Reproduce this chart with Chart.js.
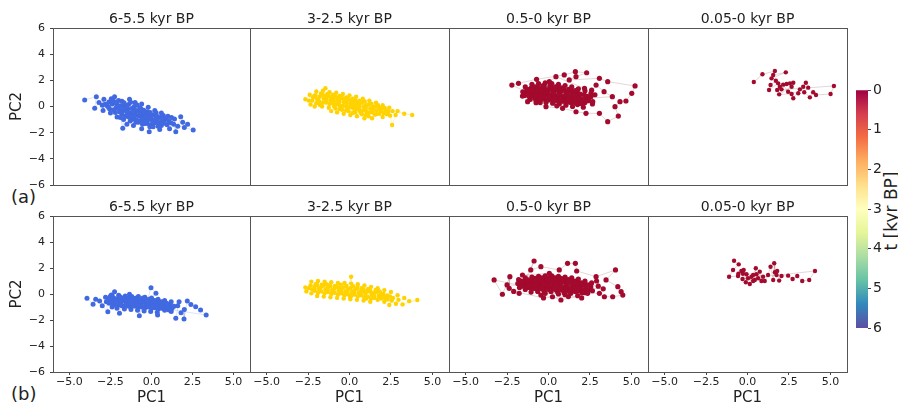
<!DOCTYPE html>
<html>
<head>
<meta charset="utf-8">
<script src="https://cdn.jsdelivr.net/npm/chart.js@4.4.0/dist/chart.umd.min.js"></script>
<style>
  body { margin: 0; background: #fff; }
  #wrap { position: relative; width: 898px; height: 410px; font-family: 'DejaVu Sans', sans-serif; color: #222; }
  #wrap canvas { position: absolute; left: 0; top: 0; }
  .tag { position: absolute; font-size: 18px; line-height: 22px; }
  #cbl { position: absolute; left: 831px; top: 200px; width: 120px; height: 22px; line-height: 22px;
         text-align: center; font-size: 17px; white-space: nowrap; transform: rotate(-90deg); }
</style>
</head>
<body>
<div id="wrap">
  <div class="tag" style="left:11px;top:186px">(a)</div>
  <div class="tag" style="left:11px;top:383px">(b)</div>
  <div id="cbl">t [kyr BP]</div>
</div>
<script>
// panel titles and ticks
const panelTitles = ['6-5.5 kyr BP', '3-2.5 kyr BP', '0.5-0 kyr BP', '0.05-0 kyr BP'];
const pc1Ticks = [-5, -2.5, 0, 2.5, 5];
const pc2Ticks = [-6, -4, -2, 0, 2, 4, 6];
const tTicks = [0, 1, 2, 3, 4, 5, 6];

// (a) row, points as [PC1, PC2]
const rowA_6k = [
  [-4.07,0.50],[-3.36,0.75],[-3.46,-0.14],[-3.2,0.3],[-3.0,0.1],[-2.9,0.55],[-2.95,-0.3],
  [-2.6,0.35],[-2.55,-0.2],[-2.7,0.05],[-2.5,-0.5],[-2.45,0.6],[-2.4,0.2],
  [-2.25,0.75],[-2.2,0.25],[-2.15,-0.1],[-2.2,-0.45],[-2.1,-0.8],[-2.3,-0.25],[-2.0,-0.2],[-2.0,0.45],
  [-1.8,0.4],[-1.85,0.05],[-1.75,-0.3],[-1.8,-0.6],[-1.7,-1.0],[-1.75,-1.67],[-1.9,-0.85],[-1.6,-0.3],[-1.6,0.1],[-1.6,-0.75],
  [-1.34,0.55],[-1.4,0.15],[-1.45,-0.2],[-1.35,-0.5],[-1.4,-0.8],[-1.3,-1.1],[-1.5,-1.35],[-1.2,-0.6],[-1.2,-0.15],[-1.2,-1.0],
  [-1.0,0.3],[-1.05,0.0],[-0.95,-0.3],[-1.0,-0.6],[-1.05,-0.9],[-0.95,-1.2],[-1.1,-1.45],[-0.8,-0.7],[-0.8,-0.35],[-0.8,-1.2],
  [-0.6,0.2],[-0.65,-0.15],[-0.55,-0.45],[-0.6,-0.75],[-0.65,-1.05],[-0.55,-1.35],[-0.6,-1.7],[-0.4,-0.9],[-0.4,-0.55],[-0.4,-1.3],
  [-0.2,-0.05],[-0.25,-0.4],[-0.15,-0.7],[-0.2,-1.0],[-0.25,-1.3],[-0.14,-1.93],[-0.1,-1.55],[0.0,-1.0],[0.0,-0.65],[0.0,-1.4],
  [0.2,-0.3],[0.15,-0.65],[0.25,-0.95],[0.2,-1.25],[0.1,-1.55],[0.4,-1.2],[0.4,-0.85],[0.4,-1.5],
  [0.6,-0.5],[0.55,-0.85],[0.65,-1.15],[0.6,-1.45],[0.5,-1.75],[0.8,-1.0],
  [1.0,-0.75],[1.05,-1.1],[0.95,-1.4],[1.1,-1.7],
  [1.4,-0.95],[1.48,-1.93],[1.35,-1.35],[1.6,-1.5],
  [1.78,-0.78],[1.9,-1.2],[2.0,-1.6],[2.2,-1.35],[2.54,-1.80],
  [-2.82,0.18],[-2.62,-0.05],[-2.33,0.42],[-2.07,0.12],[-1.93,-0.42],[-1.67,0.28],[-1.52,-0.05],[-1.48,-0.58],
  [-1.27,0.33],[-1.13,-0.38],[-1.08,-0.75],[-0.88,0.12],[-0.72,-0.12],[-0.68,-0.55],[-0.47,-0.28],[-0.52,-1.18],
  [-0.33,-0.78],[-0.28,-1.12],[-0.08,-0.45],[-0.05,-0.82],[0.08,-1.2],[0.28,-0.48],[0.32,-0.72],[0.33,-1.05],
  [0.48,-1.32],[0.72,-0.68],[0.78,-1.28],[0.88,-0.92],[1.18,-1.25],[1.22,-0.85],[-1.68,-0.15],[-2.12,0.35],
  [-0.9,-1.05],[-1.28,-0.82]
];
const rowA_3k = [
  [-2.66,0.55],[-2.4,0.9],[-2.45,0.45],[-2.35,0.15],
  [-2.0,1.15],[-2.05,0.85],[-1.95,0.55],[-2.0,0.25],[-2.1,0.0],
  [-1.6,1.2],[-1.65,0.9],[-1.55,0.6],[-1.6,0.3],[-1.65,0.0],[-1.45,1.39],
  [-1.2,1.1],[-1.25,0.8],[-1.15,0.5],[-1.2,0.2],[-1.25,-0.1],[-1.1,-0.35],
  [-0.8,1.05],[-0.85,0.75],[-0.75,0.45],[-0.8,0.15],[-0.85,-0.15],[-0.75,-0.45],
  [-0.4,0.95],[-0.45,0.65],[-0.35,0.35],[-0.4,0.05],[-0.45,-0.25],[-0.35,-0.55],
  [0.0,0.85],[-0.05,0.55],[0.05,0.25],[0.0,-0.05],[-0.05,-0.35],[0.05,-0.65],
  [0.4,0.75],[0.35,0.45],[0.45,0.15],[0.4,-0.15],[0.35,-0.45],[0.45,-0.75],
  [0.8,0.6],[0.75,0.3],[0.85,0.0],[0.8,-0.3],[0.75,-0.6],[0.9,-0.9],
  [1.2,0.45],[1.15,0.15],[1.25,-0.15],[1.2,-0.45],[1.15,-0.75],
  [1.6,0.3],[1.55,0.0],[1.65,-0.3],[1.6,-0.6],[1.36,-0.9],
  [2.0,0.1],[1.95,-0.2],[2.05,-0.5],[2.0,-0.8],
  [2.4,-0.1],[2.35,-0.4],[2.45,-0.7],[2.57,-1.41],
  [2.78,-0.65],[2.9,-0.35],[3.3,-0.55],[3.78,-0.65],
  [-2.2,0.7],[-1.8,0.75],[-1.4,0.65],[-1.0,0.6],[-0.6,0.5],[-0.2,0.4],[0.2,0.3],[0.6,0.2],[1.0,0.1],[1.4,0.0],[1.8,-0.1],[2.2,-0.3],
  [-1.8,0.35],[-1.4,0.3],[-1.0,0.25],[-0.6,0.1],[-0.2,0.0],[0.2,-0.1],[0.6,-0.3],[1.0,-0.35],[1.4,-0.45],[1.8,-0.55],
  [-1.0,0.9],[-0.6,0.8],[-0.2,0.7],[0.2,0.6],[0.6,0.45],[1.0,-0.65],[-0.6,-0.2],[-0.2,-0.3],[0.2,-0.5],
  [-2.25,0.45],[-2.12,0.82],[-1.88,0.48],[-1.72,1.0],[-1.78,0.12],[-1.52,0.82],[-1.33,0.95],[-1.38,0.45],
  [-1.12,0.7],[-0.95,0.4],[-0.92,0.0],[-0.68,0.65],[-0.62,0.3],[-0.52,-0.05],[-0.28,0.55],[-0.18,0.2],
  [-0.12,-0.15],[0.12,0.48],[0.08,0.05],[0.28,0.12],[0.32,-0.3],[0.52,0.32],[0.58,-0.05],[0.68,-0.48],
  [0.92,0.38],[0.98,-0.12],[1.08,-0.5],[1.32,0.22],[1.42,-0.22],[1.52,-0.62],[1.72,0.1],[1.88,-0.35],
  [2.12,-0.12],[2.25,-0.6],[2.6,-0.35]
];
const rowA_05k = [
  [-1.4,1.5],[-1.35,1.15],[-1.45,0.85],
  [-1.0,1.7],[-1.05,1.4],[-0.95,1.1],[-1.0,0.8],[-1.1,0.55],
  [-0.6,1.75],[-0.65,1.45],[-0.55,1.15],[-0.6,0.85],[-0.65,0.55],[-0.5,0.3],
  [-0.2,1.8],[-0.25,1.5],[-0.15,1.2],[-0.2,0.9],[-0.25,0.6],[-0.15,0.3],
  [0.2,1.75],[0.15,1.45],[0.25,1.15],[0.2,0.85],[0.15,0.55],[0.25,0.25],
  [0.6,1.7],[0.55,1.4],[0.65,1.1],[0.6,0.8],[0.55,0.5],[0.65,0.2],
  [1.0,1.6],[0.95,1.3],[1.05,1.0],[1.0,0.7],[0.95,0.4],[1.05,0.1],
  [1.4,1.5],[1.35,1.2],[1.45,0.9],[1.4,0.6],[1.35,0.3],[1.45,0.0],
  [1.8,1.35],[1.75,1.05],[1.85,0.75],[1.8,0.45],[1.75,0.15],
  [2.2,1.2],[2.15,0.9],[2.25,0.6],[2.2,0.3],[2.1,-0.05],
  [2.6,1.25],[2.55,0.75],[2.65,0.2],
  [-1.2,1.05],[-0.8,1.0],[-0.4,0.95],[0.0,0.9],[0.4,0.85],[0.8,0.8],[1.2,0.75],[1.6,0.7],[2.0,0.55],
  [-0.8,1.5],[-0.4,1.35],[0.0,1.3],[0.4,1.25],[0.8,1.2],[1.2,1.1],[1.6,1.0],
  [-0.8,0.6],[-0.4,0.55],[0.0,0.5],[0.4,0.45],[0.8,0.4],[1.2,0.35],[1.6,0.3],
  [-1.22,1.3],[-1.18,0.78],[-0.92,1.28],[-0.82,0.82],[-0.72,1.22],[-0.42,1.12],[-0.35,0.78],[-0.32,1.6],
  [-0.05,1.05],[0.02,0.72],[0.08,1.55],[0.32,1.02],[0.38,0.65],[0.42,1.5],[0.68,0.95],[0.72,0.58],
  [0.78,1.42],[1.12,0.92],[1.18,0.55],[1.22,1.32],[1.52,0.85],[1.58,0.48],[1.62,1.22],[1.92,0.95],
  [1.98,0.22],[2.32,0.78],[2.42,0.45],[-1.55,1.12],[2.8,0.9],[0.5,0.05],
  [-2.21,1.64],[-1.81,1.77],[-0.72,2.08],[0.95,2.41],[1.62,2.66],[2.30,2.58],[1.66,2.28],[1.25,2.03],
  [3.07,2.15],[3.57,1.90],[5.22,1.57],[5.02,1.01],[4.67,0.42],[4.31,0.37],[4.01,-0.01],[4.21,-0.73],
  [3.57,-1.16],[3.07,-0.52],[2.26,-0.52],[1.66,-0.40],[0.85,-0.14],[-0.15,-0.01],[-0.75,0.29],[-1.57,0.80],
  [-1.26,0.37],[3.85,0.75],[3.35,1.13],[2.87,1.64],[2.56,1.01],[2.67,0.37],[2.06,0.50],[2.17,1.39],
  [0.45,2.28],[0.05,1.90],[-0.35,1.52],[-0.96,1.31]
];
const rowA_005k = [
  [0.38,1.87],[0.90,2.46],[1.65,2.71],[1.55,2.41],[2.31,2.61],[1.45,2.15],[1.71,1.97],[1.39,1.64],
  [1.30,1.26],[1.85,1.77],[1.95,1.51],[2.05,1.31],[2.36,1.72],[2.56,1.77],[2.76,1.82],[2.66,1.51],
  [1.91,0.93],[2.66,0.96],[2.76,0.63],[3.16,1.31],[3.36,1.51],[3.52,1.82],[3.66,1.44],[3.42,1.09],
  [3.76,0.70],[3.96,1.09],[4.13,0.88],[5.01,0.96],[5.21,1.57],[1.79,1.26],[2.15,1.67],[2.45,1.13],
  [3.06,1.01]
];

// (b) row
const rowB_6k = [
  [-3.93,-0.33],[-3.56,-0.79],[-3.4,-0.4],[-3.16,-0.54],[-3.0,-0.9],[-2.66,-1.36],
  [-2.8,-0.25],[-2.75,-0.6],[-2.45,-0.08],[-2.25,0.18],
  [-2.4,-0.1],[-2.45,-0.4],[-2.35,-0.7],[-2.4,-1.0],
  [-2.0,-0.1],[-2.05,-0.35],[-1.95,-0.6],[-2.0,-0.85],[-2.1,-1.1],[-1.95,-1.49],
  [-1.6,-0.15],[-1.65,-0.4],[-1.55,-0.65],[-1.6,-0.9],[-1.65,-1.15],
  [-1.34,-0.02],[-1.2,-0.2],[-1.25,-0.45],[-1.15,-0.7],[-1.2,-0.95],[-1.25,-1.2],
  [-0.8,-0.2],[-0.85,-0.5],[-0.75,-0.75],[-0.8,-1.0],[-0.85,-1.25],[-0.74,-1.67],
  [-0.4,-0.25],[-0.45,-0.55],[-0.35,-0.8],[-0.4,-1.05],[-0.45,-1.3],
  [-0.03,0.48],[0.27,0.05],[0.0,-0.3],[-0.05,-0.6],[0.05,-0.85],[0.0,-1.1],[-0.05,-1.35],
  [0.4,-0.4],[0.35,-0.65],[0.45,-0.9],[0.4,-1.15],[0.35,-1.4],[0.37,-1.62],
  [0.8,-0.5],[0.75,-0.75],[0.85,-1.0],[0.8,-1.25],
  [1.2,-0.6],[1.15,-0.85],[1.25,-1.1],[1.2,-1.35],[1.07,-1.23],
  [1.6,-0.9],[1.68,-0.59],[1.48,-1.87],[1.8,-1.45],[2.0,-1.2],[1.98,-1.92],[2.18,-0.54],[2.4,-0.8],
  [2.69,-0.98],[2.99,-1.23],[3.33,-1.62],
  [-2.6,-0.45],[-2.2,-0.5],[-1.8,-0.55],[-1.4,-0.55],[-1.0,-0.6],[-0.6,-0.65],[-0.2,-0.7],[0.2,-0.75],[0.6,-0.8],[1.0,-0.85],
  [-2.2,-0.85],[-1.8,-0.9],[-1.4,-0.95],[-1.0,-0.95],[-0.6,-1.0],[-0.2,-1.0],[0.2,-1.05],[0.6,-1.1],[1.0,-1.15],
  [-1.8,-0.3],[-1.4,-0.3],[-1.0,-0.35],[-0.6,-0.4],[-0.2,-0.45],[0.2,-0.5],[0.6,-0.6],
  [-2.58,-0.72],[-2.52,-0.2],[-2.28,-0.32],[-2.12,-0.68],[-1.92,-0.22],[-1.88,-0.75],[-1.72,-0.48],[-1.52,-0.82],
  [-1.48,-0.4],[-1.32,-0.68],[-1.12,-0.5],[-1.08,-0.85],[-0.92,-0.3],[-0.88,-0.78],[-0.68,-0.55],[-0.62,-0.88],
  [-0.52,-0.3],[-0.28,-0.62],[-0.22,-0.88],[-0.12,-0.4],[0.08,-0.72],[0.12,-0.95],[0.28,-0.6],[0.32,-0.92],
  [0.52,-0.7],[0.58,-0.98],[0.72,-0.62],[0.92,-0.72],[0.98,-1.02],[1.38,-0.95]
];
const rowB_3k = [
  [-2.66,0.5],[-2.6,0.2],
  [-2.3,0.95],[-2.35,0.65],[-2.25,0.35],[-2.3,0.05],
  [-1.9,1.0],[-1.95,0.7],[-1.85,0.4],[-1.9,0.1],[-1.95,-0.15],
  [-1.5,0.95],[-1.55,0.65],[-1.45,0.35],[-1.5,0.05],[-1.55,-0.2],
  [-1.1,0.9],[-1.15,0.6],[-1.05,0.3],[-1.1,0.0],[-1.15,-0.25],
  [-0.7,0.85],[-0.75,0.55],[-0.65,0.25],[-0.7,-0.05],[-0.75,-0.3],
  [-0.3,0.85],[-0.35,0.5],[-0.25,0.2],[-0.3,-0.1],[-0.35,-0.35],
  [0.1,1.33],[0.1,0.8],[0.05,0.45],[0.15,0.15],[0.1,-0.15],[0.05,-0.4],
  [0.5,0.75],[0.45,0.4],[0.55,0.1],[0.5,-0.2],[0.45,-0.45],
  [0.9,0.65],[0.85,0.35],[0.95,0.05],[0.9,-0.25],[0.85,-0.5],
  [1.3,0.55],[1.25,0.25],[1.35,-0.05],[1.3,-0.35],[1.25,-0.6],
  [1.7,0.45],[1.65,0.15],[1.75,-0.15],[1.7,-0.45],
  [2.1,0.3],[2.05,0.0],[2.15,-0.3],[2.1,-0.6],
  [2.5,0.15],[2.45,-0.2],[2.55,-0.5],[2.4,-0.85],
  [2.9,-0.1],[2.95,-0.45],[2.8,-0.75],
  [3.3,-0.3],[3.6,-0.55],[4.09,-0.46],[3.2,-0.8],
  [-2.1,0.6],[-1.7,0.55],[-1.3,0.5],[-0.9,0.45],[-0.5,0.4],[-0.1,0.35],[0.3,0.3],[0.7,0.25],[1.1,0.2],[1.5,0.1],[1.9,0.0],
  [-2.1,0.25],[-1.7,0.2],[-1.3,0.15],[-0.9,0.1],[-0.5,0.05],[-0.1,0.0],[0.3,-0.05],[0.7,-0.1],[1.1,-0.2],[1.5,-0.3],[1.9,-0.35],[2.3,-0.4],
  [-2.45,0.45],[-2.12,0.42],[-2.02,0.78],[-1.78,0.38],[-1.68,0.72],[-1.42,0.78],[-1.32,0.32],[-1.22,0.68],
  [-0.98,0.22],[-0.88,0.62],[-0.62,0.45],[-0.52,0.72],[-0.48,0.18],[-0.18,0.62],[-0.12,0.18],[0.02,-0.2],
  [0.22,0.6],[0.28,0.12],[0.48,0.55],[0.62,0.0],[0.72,0.45],[0.88,0.18],[1.02,-0.35],[1.12,0.38],
  [1.32,0.08],[1.48,-0.15],[1.58,0.32],[1.82,0.2],[2.02,-0.25],[2.28,-0.12],[2.62,-0.3]
];
const rowB_05k = [
  [-1.8,1.1],[-1.85,0.8],[-1.75,0.5],
  [-1.4,1.25],[-1.45,0.95],[-1.35,0.65],[-1.4,0.35],
  [-1.0,1.3],[-1.05,1.0],[-0.95,0.7],[-1.0,0.4],[-1.05,0.15],
  [-0.6,1.35],[-0.65,1.05],[-0.55,0.75],[-0.6,0.45],[-0.65,0.2],
  [-0.2,1.4],[-0.25,1.1],[-0.15,0.8],[-0.2,0.5],[-0.25,0.2],
  [0.2,1.4],[0.15,1.1],[0.25,0.8],[0.2,0.5],[0.15,0.2],
  [0.6,1.35],[0.55,1.05],[0.65,0.75],[0.6,0.45],[0.55,0.15],
  [1.0,1.3],[0.95,1.0],[1.05,0.7],[1.0,0.4],[0.95,0.1],
  [1.4,1.25],[1.35,0.95],[1.45,0.65],[1.4,0.35],[1.35,0.05],
  [1.8,1.15],[1.75,0.85],[1.85,0.55],[1.8,0.25],
  [2.2,1.0],[2.15,0.7],[2.25,0.4],[2.2,0.1],
  [2.6,0.85],[2.55,0.55],[2.65,0.25],
  [-1.6,0.8],[-1.2,0.8],[-0.8,0.9],[-0.4,0.95],[0.0,0.95],[0.4,0.95],[0.8,0.9],[1.2,0.85],[1.6,0.75],[2.0,0.65],
  [-1.2,0.5],[-0.8,0.6],[-0.4,0.65],[0.0,0.65],[0.4,0.6],[0.8,0.55],[1.2,0.5],[1.6,0.45],[2.0,0.35],
  [-0.8,1.2],[-0.4,1.25],[0.0,1.25],[0.4,1.25],[0.8,1.15],[1.2,1.1],[1.6,1.0],
  [-1.62,1.0],[-1.58,0.6],[-1.22,1.08],[-1.18,0.65],[-0.82,1.05],[-0.78,0.42],[-0.42,1.1],[-0.38,0.38],
  [-0.02,1.1],[0.02,0.35],[0.38,1.1],[0.42,0.35],[0.78,1.05],[0.82,0.3],[1.18,1.0],[1.22,0.22],
  [1.58,0.9],[1.62,0.2],[1.98,0.85],[2.02,0.1],[2.38,0.7],[2.42,0.3],[-0.2,0.05],[0.6,0.0],[1.0,-0.05],
  [-3.28,1.08],[-2.78,-0.02],[-2.33,1.33],[-2.37,0.44],[-1.77,0.05],[-0.87,2.54],[-1.07,1.85],[-0.46,2.10],
  [0.65,1.85],[1.15,2.36],[1.62,2.36],[1.70,1.77],[2.87,1.33],[4.04,1.85],[3.47,1.08],[4.18,0.56],
  [4.38,0.18],[4.48,-0.08],[3.87,-0.21],[3.37,-0.21],[3.07,0.05],[2.36,0.05],[1.76,-0.13],[0.75,-0.46],
  [0.24,-0.21],[-0.46,-0.08],[0.75,1.21],[0.05,1.59],[-1.57,1.46],
  [3.0,0.6],[2.9,1.0],[3.3,0.4],[-2.5,0.7],[-2.1,0.2],[-0.3,-0.3],[1.2,-0.2],[2.0,-0.3]
];
const rowB_005k = [
  [-0.81,2.56],[-0.53,2.28],[-0.87,1.85],[-1.11,1.33],[-0.57,1.38],[-0.37,1.77],[-0.23,1.85],[-0.06,1.52],
  [-0.10,0.90],[0.14,0.77],[0.24,1.33],[0.34,1.46],[0.50,1.98],[0.44,1.08],[0.64,1.21],[0.74,1.72],
  [0.84,1.00],[1.04,1.00],[1.24,1.46],[1.39,2.10],[1.55,1.08],[1.61,2.36],[1.65,1.67],[1.75,1.46],
  [1.79,1.77],[1.91,1.03],[2.05,1.38],[2.45,1.41],[2.72,1.15],[3.00,1.38],[3.30,1.00],[3.72,1.08],
  [4.07,1.77],[-0.30,1.15],[0.03,1.21],[0.34,1.00],[-0.55,1.56],[-0.27,1.56],[0.54,1.52],[0.94,1.33]
];

// colormap for the colour bar (Spectral, reversed: 0 kyr at top)
const cmapColors = ['#9e0142','#d53e4f','#f46d43','#fdae61','#fee08b','#ffffbf','#e6f598','#abdda4','#66c2a5','#3288bd','#5e4fa2'];

const dotColors = ['#4169e1', '#ffd200', '#a30a2e', '#a30a2e'];
const lineColors = ['rgba(65,105,225,0.3)', 'rgba(255,210,0,0.35)', 'rgba(150,105,110,0.45)', 'rgba(150,105,110,0.45)'];
const dotSizes = [2.5, 2.2, 2.6, 2.2];

const colEdges = [[53, 250], [250, 449], [449, 648], [648, 847]];
const rowEdges = [[28, 185], [216, 372]];

Chart.defaults.font.family = "'DejaVu Sans', sans-serif";
Chart.defaults.color = '#222';

const wrap = document.getElementById('wrap');
function makeCanvas() {
  const c = document.createElement('canvas');
  c.width = 898; c.height = 410;
  c.style.width = '898px'; c.style.height = '410px';
  wrap.appendChild(c);
  return c;
}

function fmt(v, d) {
  return (v < 0 ? '\u2212' : '') + Math.abs(v).toFixed(d);
}

// draws the full box round each panel
const framePlugin = {
  id: 'frame',
  afterDatasetsDraw(chart) {
    const a = chart.chartArea, ctx = chart.ctx;
    ctx.save();
    ctx.strokeStyle = '#555';
    ctx.lineWidth = 1;
    ctx.strokeRect(Math.round(a.left) + 0.5, Math.round(a.top) + 0.5,
                   Math.round(a.right - a.left), Math.round(a.bottom - a.top));
    ctx.restore();
  }
};

const rows = [
  [rowA_6k, rowA_3k, rowA_05k, rowA_005k],
  [rowB_6k, rowB_3k, rowB_05k, rowB_005k]
];

rows.forEach((row, r) => {
  row.forEach((pts, k) => {
    const [x0, x1] = colEdges[k];
    const [y0, y1] = rowEdges[r];
    const leftAxis = k === 0;
    const bottomAxis = r === 1;

    new Chart(makeCanvas(), {
      type: 'scatter',
      data: {
        datasets: [{
          data: pts.map(p => ({ x: p[0], y: p[1] })),
          showLine: true,
          borderColor: lineColors[k],
          borderWidth: 0.6,
          pointRadius: dotSizes[k],
          pointBackgroundColor: dotColors[k],
          pointBorderWidth: 0
        }]
      },
      options: {
        responsive: false,
        animation: false,
        events: [],
        layout: {
          padding: {
            left: leftAxis ? x0 - 45 : x0,
            right: 898 - x1,
            top: y0 - 16.8,
            bottom: bottomAxis ? 410 - y1 - 38 : 410 - y1
          }
        },
        plugins: {
          legend: { display: false },
          tooltip: { enabled: false },
          title: {
            display: true,
            text: panelTitles[k],
            fullSize: false,
            padding: 0,
            font: { size: 14, weight: 'normal' },
            color: '#222'
          }
        },
        scales: {
          x: {
            type: 'linear',
            min: -6, max: 6,
            display: bottomAxis,
            afterBuildTicks: s => { s.ticks = pc1Ticks.map(v => ({ value: v })); },
            afterFit: s => { s.height = bottomAxis ? 38 : 0; },
            grid: { drawOnChartArea: false, tickLength: 3, color: '#444' },
            border: { display: false },
            ticks: { font: { size: 11 }, padding: 1, maxRotation: 0, autoSkip: false, color: '#222',
                     callback: v => fmt(v, 1) },
            title: { display: true, text: 'PC1', font: { size: 15 }, padding: { top: 0, bottom: 3 }, color: '#222' }
          },
          y: {
            type: 'linear',
            min: -6, max: 6,
            display: leftAxis,
            afterBuildTicks: s => { s.ticks = pc2Ticks.map(v => ({ value: v })); },
            afterFit: s => { s.width = leftAxis ? 45 : 0; },
            grid: { drawOnChartArea: false, tickLength: 3, color: '#444' },
            border: { display: false },
            ticks: { font: { size: 11 }, padding: 5, autoSkip: false, color: '#222',
                     callback: v => fmt(v, 0) },
            title: { display: true, text: 'PC2', font: { size: 15 }, padding: { top: 0, bottom: 0 }, color: '#222' }
          }
        }
      },
      plugins: [framePlugin]
    });
  });
});

// colour bar
function cbGradient(chart) {
  const a = chart.chartArea;
  if (!a) return cmapColors[0];
  const g = chart.ctx.createLinearGradient(0, a.top, 0, a.bottom);
  cmapColors.forEach((c, i) => g.addColorStop(i / (cmapColors.length - 1), c));
  return g;
}

new Chart(makeCanvas(), {
  type: 'bar',
  data: {
    labels: ['t'],
    datasets: [{
      data: [[tTicks[0], tTicks[tTicks.length - 1]]],
      backgroundColor: ctx => cbGradient(ctx.chart),
      barPercentage: 1,
      categoryPercentage: 1,
      borderWidth: 0
    }]
  },
  options: {
    responsive: false,
    animation: false,
    events: [],
    layout: { padding: { left: 856, right: 898 - 868 - 30, top: 90, bottom: 410 - 328 } },
    plugins: { legend: { display: false }, tooltip: { enabled: false } },
    scales: {
      x: { display: false },
      y: {
        position: 'right',
        min: 0, max: 6,
        reverse: true,
        afterBuildTicks: s => { s.ticks = tTicks.map(v => ({ value: v })); },
        afterFit: s => { s.width = 30; },
        grid: { drawOnChartArea: false, tickLength: 3, color: '#444' },
        border: { display: false },
        ticks: { font: { size: 14 }, padding: 2, color: '#222' }
      }
    }
  }
});
</script>
</body>
</html>
